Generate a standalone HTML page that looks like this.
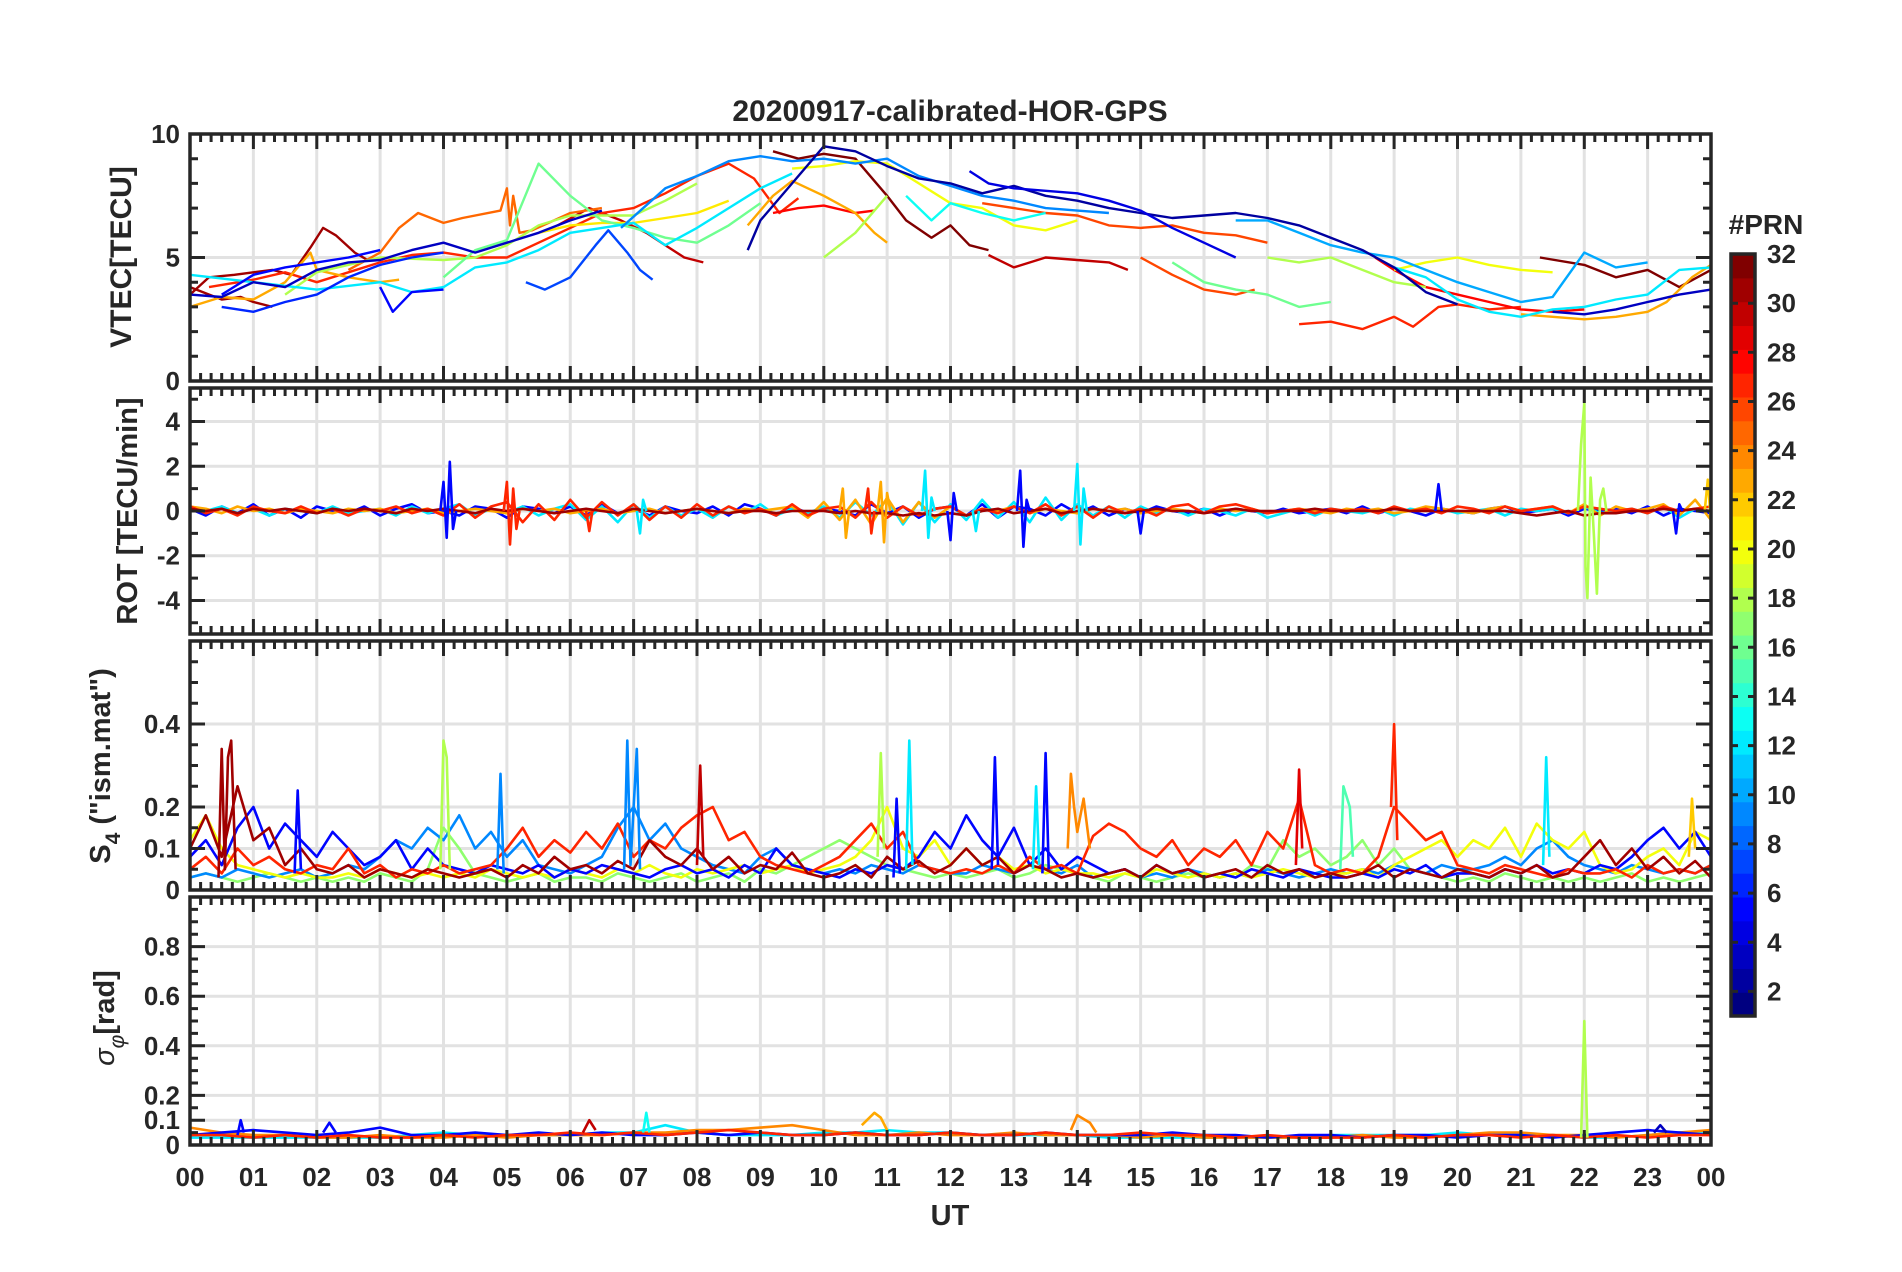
<!DOCTYPE html>
<html><head><meta charset="utf-8"><title>20200917-calibrated-HOR-GPS</title>
<style>html,body{margin:0;padding:0;background:#fff}svg{display:block}text{font-family:"Liberation Sans",Arial,sans-serif;font-weight:bold;fill:#262626}</style>
</head><body>
<svg id="fig" xmlns="http://www.w3.org/2000/svg" width="1902" height="1272" viewBox="0 0 1902 1272">
<rect x="0" y="0" width="1902" height="1272" fill="#fff"/>
<text x="950" y="121" font-size="30" text-anchor="middle">20200917-calibrated-HOR-GPS</text>
<text x="950" y="1225" font-size="29" text-anchor="middle">UT</text>
<text transform="translate(131,257) rotate(-90)" font-size="30" text-anchor="middle">VTEC[TECU]</text>
<text transform="translate(137,511) rotate(-90)" font-size="29" text-anchor="middle">ROT [TECU/min]</text>
<text transform="translate(110,766) rotate(-90)" font-size="29" text-anchor="middle">S<tspan font-size="21" dy="10">4</tspan><tspan dy="-10"> ("ism.mat")</tspan></text>
<text transform="translate(114,1018) rotate(-90)" font-size="29" text-anchor="middle"><tspan font-style="italic" font-weight="normal">σ</tspan><tspan font-size="21" dy="10" font-style="italic" font-weight="normal">φ</tspan><tspan dy="-10">[rad]</tspan></text>
<text x="1766" y="234" font-size="28" text-anchor="middle">#PRN</text>
<g id="layer"></g>
</svg>
<script>
// ---------- axis tick data ----------
const hourTicks = [0,1,2,3,4,5,6,7,8,9,10,11,12,13,14,15,16,17,18,19,20,21,22,23,24];
const hourLabels = ["00","01","02","03","04","05","06","07","08","09","10","11","12","13","14","15","16","17","18","19","20","21","22","23","00"];
const vtecTicks = [0,5,10];
const rotTicks = [-4,-2,0,2,4];
const s4Ticks = [0,0.1,0.2,0.4];
const sigTicks = [0,0.1,0.2,0.4,0.6,0.8];
const cbTicks = [2,4,6,8,10,12,14,16,18,20,22,24,26,28,30,32];

// ---------- VTEC tracks (hour, TECU) ----------
const vtecP31a = [[0,3.5],[0.3,4.2],[0.7,4.3],[1,4.4],[1.3,4.5],[1.6,4.3],[1.9,5.4],[2.1,6.2],[2.3,5.9],[2.6,5.2],[2.8,4.9]];
const vtecP31b = [[0,3.8],[0.5,3.3],[0.8,3.4],[1,3.2],[1.3,3.0]];
const vtecP30a = [[5.8,6.3],[6.3,7.0],[6.8,6.5],[7.2,6.0],[7.5,5.5],[7.8,5.0],[8.1,4.8]];
const vtecP32a = [[9.2,9.3],[9.6,9.0],[10,9.2],[10.5,9.0],[11,7.5],[11.3,6.5],[11.7,5.8],[12,6.3],[12.3,5.5],[12.6,5.3]];
const vtecP30b = [[12.6,5.1],[13,4.6],[13.5,5.0],[14,4.9],[14.5,4.8],[14.8,4.5]];
const vtecP32b = [[21.3,5.0],[22,4.7],[22.5,4.2],[23,4.5],[23.5,3.8],[24,4.5]];
const vtecP27a = [[0.3,3.8],[1,4.1],[1.5,4.4],[2,4.0],[2.5,4.4],[3,4.8],[3.5,5.1],[4,5.2],[4.5,5.0],[5,5.0],[5.5,5.6],[6,6.2],[6.5,6.8],[7,7.0],[7.5,7.6],[8,8.3],[8.5,8.8],[8.9,8.2],[9.3,6.8],[9.6,7.4]];
const vtecP28a = [[9.2,6.8],[9.6,7.0],[10,7.1],[10.5,6.8],[10.8,6.9]];
const vtecP26a = [[12.5,7.2],[13,7.0],[13.5,6.8],[14,6.7],[14.5,6.3],[15,6.2],[15.5,6.3],[16,6.0],[16.5,5.9],[17,5.6]];
const vtecP26b = [[15,5.0],[15.5,4.3],[16,3.7],[16.5,3.5],[16.8,3.7]];
const vtecP27b = [[17.5,2.3],[18,2.4],[18.5,2.1],[19,2.6],[19.3,2.2],[19.7,3.0],[20,3.1],[20.5,2.9],[21,3.0]];
const vtecP28b = [[18.7,5.0],[19,4.5],[19.5,3.8],[20,3.5],[20.5,3.2],[21,2.9],[21.5,2.8],[22,2.9]];
const vtecP25a = [[2.5,4.5],[3,5.2],[3.3,6.2],[3.6,6.8],[4,6.4],[4.3,6.6],[4.9,6.9],[5,7.8],[5.05,6.3],[5.1,7.5],[5.2,6.0],[5.4,6.1],[6,6.8],[6.5,7.0]];
const vtecP23a = [[0,3.0],[0.5,3.4],[1,3.3],[1.5,4.0],[1.9,5.2],[2,4.5],[2.5,4.2],[3.0,4.0],[3.3,4.1]];
const vtecP23b = [[8.8,6.3],[9.2,7.5],[9.5,8.1],[10,7.5],[10.5,6.8],[10.8,6.0],[11,5.6]];
const vtecP23c = [[21,2.7],[21.5,2.6],[22,2.5],[22.5,2.6],[23,2.8],[23.3,3.2],[23.7,4.2],[24,4.7]];
const vtecP20a = [[9.5,8.6],[10,8.7],[10.5,8.9],[11,8.8],[11.5,8.0],[12,7.2],[12.5,7.0],[13,6.3],[13.5,6.1],[14,6.5]];
const vtecP20b = [[19,4.5],[19.5,4.8],[20,5.0],[20.5,4.7],[21,4.5],[21.5,4.4]];
const vtecP21a = [[5.5,6.0],[6,6.3],[6.5,6.4],[7,6.4],[7.5,6.6],[8,6.8],[8.5,7.3]];
const vtecP18a = [[1.5,3.5],[2,4.4],[3,5.0],[4,4.9],[4.5,5.0],[5,5.5],[5.5,6.3],[6,6.7],[7,6.7],[7.5,7.3],[8,8.0]];
const vtecP18b = [[10,5.0],[10.5,6.0],[11,7.5]];
const vtecP18c = [[17,5.0],[17.5,4.8],[18,5.0],[18.5,4.5],[19,4.0],[19.5,3.8]];
const vtecP16a = [[4,4.2],[4.5,5.3],[5,5.7],[5.5,8.8],[6,7.5],[6.5,6.5],[7,6.2],[7.5,5.8],[8,5.6],[8.5,6.3],[9,7.2]];
const vtecP16b = [[15.5,4.8],[16,4.0],[16.5,3.7],[17,3.5],[17.5,3.0],[18,3.2]];
const vtecP12a = [[0,4.3],[1,4.0],[2,3.7],[3,4.0],[3.5,3.6],[4,3.8],[4.5,4.6],[5,4.8],[5.5,5.3],[6,6.0],[6.5,6.2],[7,6.4],[7.5,5.5],[8,6.2],[8.5,7.0],[9,7.8],[9.5,8.4]];
const vtecP13a = [[11.3,7.5],[11.7,6.5],[12,7.2],[12.5,6.8],[13,6.5],[13.5,6.8]];
const vtecP12b = [[19,4.6],[19.5,4.2],[20,3.3],[20.5,2.8],[21,2.6],[21.5,2.9],[22,3.0],[22.5,3.3],[23,3.5],[23.5,4.5],[24,4.6]];
const vtecP9a = [[6.8,6.2],[7.5,7.8],[8,8.3],[8.5,8.9],[9,9.1],[9.5,8.9],[10,9.0],[10.5,8.8],[11,9.0],[11.5,8.3],[12,7.9],[12.5,7.5],[13,7.3],[13.5,7.0],[14,6.9],[14.5,6.8]];
const vtecP10a = [[16.5,6.5],[17,6.5],[17.5,6.0],[18,5.5],[18.5,5.2],[19,5.0],[19.5,4.5],[20,4.0],[20.5,3.6],[21,3.2],[21.5,3.4],[22,5.2],[22.5,4.6],[23,4.8]];
const vtecP7a = [[5.3,4.0],[5.6,3.7],[6,4.2],[6.4,5.5],[6.6,6.1],[6.9,5.2],[7.1,4.5],[7.3,4.1]];
const vtecP6a = [[0.5,3.0],[1,2.8],[1.5,3.2],[2,3.5],[2.5,4.2],[3,4.7],[3.5,5.0],[4,5.2]];
const vtecP5a = [[0.5,3.5],[1,4.3],[1.5,4.6],[2,4.8],[2.5,5.0],[3,5.3]];
const vtecP5b = [[3,3.8],[3.2,2.8],[3.5,3.6],[4,3.7]];
const vtecP3a = [[0,3.5],[0.5,3.4],[1,4.0],[1.5,3.8],[2,4.5],[2.5,4.8],[3,4.9],[3.5,5.3],[4,5.6],[4.5,5.2],[5,5.6],[5.5,6.0],[6,6.5],[6.5,6.9]];
const vtecP2a = [[8.8,5.3],[9,6.5],[9.5,8.0],[10,9.5],[10.5,9.3],[11,8.7],[11.5,8.2],[12,8.0],[12.5,7.6],[13,7.9],[13.5,7.5],[14,7.3],[14.5,7.0],[15,6.8],[15.5,6.6],[16,6.7],[16.5,6.8],[17,6.6],[17.5,6.3],[18,5.8],[18.5,5.3],[19,4.6],[19.5,3.6],[20,3.1]];
const vtecP4a = [[12.3,8.5],[12.6,8.0],[13,7.8],[13.5,7.7],[14,7.6],[14.5,7.3],[15,6.9],[15.5,6.2],[16,5.6],[16.5,5.0]];
const vtecP3b = [[21.5,2.8],[22,2.7],[22.5,2.9],[23,3.2],[23.5,3.5],[24,3.7]];
const vtecSeries = [[31,vtecP31a],[31,vtecP31b],[30,vtecP30a],[32,vtecP32a],[30,vtecP30b],[32,vtecP32b],[27,vtecP27a],[28,vtecP28a],[26,vtecP26a],[26,vtecP26b],[27,vtecP27b],[28,vtecP28b],[25,vtecP25a],[23,vtecP23a],[23,vtecP23b],[23,vtecP23c],[20,vtecP20a],[20,vtecP20b],[21,vtecP21a],[18,vtecP18a],[18,vtecP18b],[18,vtecP18c],[16,vtecP16a],[16,vtecP16b],[12,vtecP12a],[13,vtecP13a],[12,vtecP12b],[9,vtecP9a],[10,vtecP10a],[7,vtecP7a],[6,vtecP6a],[5,vtecP5a],[5,vtecP5b],[3,vtecP3a],[2,vtecP2a],[4,vtecP4a],[3,vtecP3b]];

// ---------- ROT (evenly sampled over 0-24 h) ----------
const rotP5 = [0.1,-0.2,0.2,-0.1,0.3,-0.2,0.1,-0.3,0.2,0.0,-0.1,0.2,-0.2,0.1,0.3,-0.1,0.0,-0.2,0.2,0.1,-0.3,0.2,0.1,-0.1,0.2,-0.2,0.3,-0.1,0.1,-0.2,0.2,0.0,-0.1,0.2,-0.2,0.3,0.1,-0.2,0.2,-0.1,0.1,0.0,-0.2,0.3,-0.1,0.2,-0.3,0.1,0.2,-0.2,0.3,-0.3,0.2,0.1,-0.2,0.3,-0.1,0.2,-0.2,0.1,-0.1,0.2,0.0,-0.1,0.1,-0.2,0.1,0.0,-0.1,0.1,-0.1,0.0,0.1,-0.1,0.2,-0.1,0.1,0.0,-0.2,0.1,0.0,-0.1,0.1,0.2,-0.1,0.0,0.1,-0.2,0.1,0.0,0.1,-0.1,0.2,-0.2,0.1,0.0,-0.1];
const rotP27 = [0.2,-0.1,0.1,-0.2,0.2,0.0,-0.1,0.2,-0.1,0.1,-0.2,0.1,0.0,0.2,-0.1,0.1,-0.2,0.3,-0.3,0.2,0.4,-0.5,0.3,-0.4,0.5,-0.3,0.4,-0.2,0.3,-0.4,0.2,-0.3,0.3,-0.2,0.2,-0.1,0.1,-0.2,0.3,-0.2,0.1,0.2,-0.3,0.4,-0.3,0.2,-0.2,0.1,0.2,-0.2,0.1,-0.1,0.2,-0.1,0.3,-0.2,0.2,-0.3,0.2,-0.1,0.1,-0.2,0.2,0.3,-0.1,0.2,0.3,0.1,-0.1,0.0,0.1,-0.1,0.1,0.0,0.1,-0.1,0.2,0.0,0.1,-0.1,0.2,0.1,-0.1,0.2,0.0,0.1,0.2,-0.1,0.2,0.1,0.0,0.1,-0.1,0.2,0.0,0.1,0.2];
const rotP12 = [0.1,0.0,0.2,-0.1,0.1,-0.2,0.1,0.0,-0.1,0.2,-0.1,0.0,0.1,-0.2,0.2,-0.1,0.1,0.3,-0.2,0.1,-0.1,0.2,-0.2,0.1,0.3,-0.4,0.2,-0.5,0.3,-0.3,0.2,-0.2,0.1,-0.3,0.2,-0.1,0.3,-0.2,0.1,-0.1,0.2,-0.3,0.4,-0.2,0.5,-0.6,0.4,-0.5,0.3,-0.4,0.5,-0.3,0.4,-0.5,0.6,-0.4,0.3,-0.2,0.2,-0.3,0.2,-0.1,0.1,-0.2,0.1,0.0,-0.2,0.1,-0.3,-0.1,0.1,-0.2,0.1,0.0,-0.1,0.1,-0.2,0.1,0.0,0.1,-0.1,0.0,0.1,-0.2,0.1,0.0,0.1,-0.1,0.2,-0.1,0.0,0.1,-0.1,0.2,-0.3,0.1,0.2];
const rotP23 = [0.2,0.1,-0.1,0.2,0.0,0.1,-0.1,0.1,0.0,-0.1,0.1,0.0,0.1,-0.1,0.0,0.1,-0.1,0.0,0.1,0.0,-0.1,0.1,0.0,0.1,-0.1,0.0,0.1,-0.1,0.0,0.1,-0.1,0.0,0.1,0.0,-0.1,0.1,0.0,0.1,0.2,-0.3,0.4,-0.4,0.5,-0.6,0.6,-0.5,0.4,-0.3,0.2,-0.2,0.1,0.0,0.2,-0.1,0.1,0.0,-0.1,0.1,0.0,0.1,-0.1,0.0,0.1,0.0,-0.1,0.1,0.0,0.1,-0.1,0.0,0.1,0.0,-0.1,0.1,0.0,0.1,-0.1,0.0,0.2,0.1,0.0,-0.1,0.1,0.2,0.0,0.1,0.2,-0.1,0.3,-0.2,0.2,0.0,0.1,0.3,-0.2,0.5,-0.4];
const rotP31 = [0.1,0.0,0.1,-0.1,0.1,0.0,0.1,0.0,-0.1,0.1,0.0,0.1,0.0,-0.1,0.1,0.0,0.1,0.0,-0.1,0.1,0.0,0.1,0.0,-0.1,0.0,0.1,0.0,-0.1,0.1,0.0,-0.1,0.0,0.1,0.0,-0.1,0.0,0.0,-0.1,0.0,0.0,0.0,-0.1,0.0,-0.1,-0.1,-0.2,-0.1,-0.2,-0.1,-0.2,0.0,0.1,-0.1,0.0,0.1,-0.1,0.0,0.1,0.0,-0.1,0.0,0.1,0.0,0.0,-0.1,0.0,0.1,0.0,0.0,0.0,0.0,0.1,0.0,0.0,0.0,0.0,0.1,0.0,0.0,0.0,0.0,0.0,0.0,0.0,-0.1,-0.2,-0.1,0.0,-0.2,-0.1,-0.1,0.0,0.0,0.1,0.0,0.1,0.0];
const rotBase = [[5,rotP5],[12,rotP12],[23,rotP23],[27,rotP27],[31,rotP31]];
const rotSpikes = [
 [5,[[3.95,0],[4.0,1.3],[4.05,-1.2],[4.1,2.2],[4.15,-0.8],[4.2,0]]],
 [5,[[11.95,0],[12.0,-1.3],[12.05,0.8],[12.1,0]]],
 [5,[[13.05,0],[13.1,1.8],[13.15,-1.6],[13.2,0.5],[13.25,0]]],
 [5,[[14.95,0],[15.0,-1.0],[15.05,0]]],
 [5,[[19.65,0],[19.7,1.2],[19.75,0]]],
 [5,[[23.4,0],[23.45,-1.0],[23.5,0.3],[23.55,0]]],
 [27,[[4.95,0],[5.0,1.3],[5.05,-1.5],[5.1,1.0],[5.15,-0.8],[5.2,0]]],
 [27,[[6.25,0],[6.3,-0.9],[6.35,0]]],
 [27,[[10.65,0],[10.7,1.0],[10.75,-1.0],[10.8,0]]],
 [12,[[7.05,0],[7.1,-1.0],[7.15,0.5],[7.2,0]]],
 [12,[[11.55,0],[11.6,1.8],[11.65,-1.2],[11.7,0.6],[11.75,0]]],
 [12,[[13.95,0],[14.0,2.1],[14.05,-1.5],[14.1,1.0],[14.15,0]]],
 [12,[[12.35,0],[12.4,-0.9],[12.45,0]]],
 [23,[[10.25,0],[10.3,1.0],[10.35,-1.2],[10.4,0]]],
 [23,[[10.85,0],[10.9,1.3],[10.95,-1.4],[11.0,0.8],[11.05,0]]],
 [18,[[21.9,0],[21.95,3.0],[22.0,4.8],[22.02,-2.5],[22.05,-3.9],[22.1,1.5],[22.15,-1.0],[22.2,-3.7],[22.25,0.5],[22.3,1.0],[22.35,0]]],
 [22,[[23.9,0],[23.95,1.4],[24,-0.5]]]
];

// ---------- S4 (evenly sampled over 0-24 h) ----------
const s4P31 = [.10,.18,.08,.25,.12,.15,.06,.10,.05, .04,.06,.03,.05,.04,.03,.05,.04, .03,.04,.05,.03,.06,.04,.08,.05, .06,.04,.07,.05,.12,.08,.06,.10, .05,.08,.04,.06,.05,.09,.04,.03, .04,.06,.03,.08,.05,.07,.04,.06, .10,.06,.08,.04,.06,.05,.03,.04, .03,.04,.05,.03,.06,.04,.05,.03, .04,.05,.03,.06,.04,.05,.03,.04, .03,.04,.06,.03,.05,.04,.03,.05, .04,.03,.05,.04,.06,.03,.04,.08, .12,.06,.10,.05,.08,.04,.07,.03];
const s4P27 = [.05,.08,.04,.10,.06,.08,.05,.04,.06, .05,.10,.04,.06,.03,.05,.04,.06, .04,.05,.06,.10,.15,.08,.12,.09, .14,.10,.16,.08,.12,.10,.15,.18, .20,.12,.14,.08,.06,.05,.04,.06, .08,.12,.16,.10,.14,.06,.05,.04, .05,.04,.06,.04,.08,.05,.06,.04, .13,.16,.14,.10,.08,.12,.06,.10, .08,.12,.06,.14,.10,.22,.06,.04, .05,.04,.08,.20,.16,.12,.14,.06, .05,.04,.06,.05,.04,.03,.05,.04, .04,.05,.03,.06,.04,.05,.04,.06];
const s4P5 = [.08,.12,.06,.15,.20,.10,.16,.12,.08, .14,.10,.06,.08,.12,.05,.10,.06, .05,.04,.06,.05,.04,.06,.03,.05, .04,.06,.05,.04,.03,.05,.06,.04, .05,.03,.06,.04,.10,.06,.05,.04, .03,.05,.04,.06,.05,.08,.14,.10, .18,.12,.08,.15,.06,.10,.05,.08, .06,.04,.05,.03,.06,.04,.05,.03, .04,.03,.05,.04,.03,.05,.04,.03, .03,.04,.03,.05,.04,.06,.03,.04, .04,.03,.05,.04,.06,.04,.05,.04, .06,.05,.08,.12,.15,.10,.14,.08];
const s4P9 = [.03,.04,.03,.05,.04,.03,.04,.05,.03, .04,.06,.05,.08,.12,.10,.15,.12, .18,.10,.14,.08,.12,.06,.05,.04, .06,.08,.15,.20,.12,.16,.10,.08, .06,.05,.04,.08,.10,.06,.05,.04, .05,.04,.06,.05,.04,.06,.05,.04, .04,.06,.05,.04,.06,.05,.04,.06, .03,.04,.05,.03,.04,.03,.05,.04, .03,.04,.03,.05,.04,.03,.04,.05, .04,.05,.04,.06,.05,.04,.06,.05, .05,.06,.08,.06,.10,.12,.08,.06, .05,.04,.06,.05,.04,.05,.04,.06];
const s4P20 = [.12,.18,.10,.06,.05,.04,.03,.04,.03, .03,.04,.03,.05,.04,.03,.04,.03, .04,.03,.05,.04,.03,.04,.03,.05, .04,.03,.05,.04,.06,.04,.03,.05, .04,.05,.06,.04,.05,.06,.04,.05, .06,.08,.12,.20,.10,.08,.12,.06, .10,.06,.08,.05,.06,.04,.05,.04, .04,.03,.04,.03,.05,.04,.03,.04, .03,.04,.03,.04,.05,.04,.03,.04, .04,.05,.03,.06,.08,.10,.12,.08, .12,.10,.15,.08,.16,.12,.10,.14, .06,.04,.05,.08,.10,.06,.14,.12];
const s4P17 = [.03,.04,.03,.02,.03,.04,.03,.02,.03, .02,.03,.02,.04,.03,.02,.05,.15, .10,.04,.03,.02,.03,.04,.02,.03, .03,.02,.04,.03,.02,.03,.04,.02, .03,.04,.02,.05,.04,.06,.08,.10, .12,.10,.08,.06,.05,.04,.03,.04, .03,.04,.05,.03,.04,.06,.05,.04, .03,.02,.04,.03,.02,.03,.04,.03, .04,.03,.06,.05,.12,.08,.10,.06, .08,.12,.06,.10,.05,.04,.03,.02, .03,.02,.04,.03,.02,.03,.02,.03, .02,.03,.04,.02,.03,.02,.03,.04];
const s4Base = [[17,s4P17],[9,s4P9],[20,s4P20],[5,s4P5],[27,s4P27],[31,s4P31]];
const s4Spikes = [
 [31,[[0.45,0.03],[0.5,0.34],[0.55,0.05],[0.6,0.32],[0.65,0.36],[0.72,0.05]]],
 [5,[[1.65,0.04],[1.7,0.24],[1.75,0.05]]],
 [5,[[12.65,0.05],[12.7,0.32],[12.75,0.06]]],
 [5,[[13.45,0.04],[13.5,0.33],[13.55,0.05]]],
 [5,[[11.1,0.03],[11.15,0.22],[11.2,0.04]]],
 [18,[[3.95,0.05],[4.0,0.36],[4.05,0.32],[4.1,0.05]]],
 [18,[[10.85,0.08],[10.9,0.33],[10.95,0.1]]],
 [9,[[4.85,0.05],[4.9,0.28],[4.95,0.04]]],
 [9,[[6.85,0.05],[6.9,0.36],[6.95,0.06],[7.05,0.34],[7.1,0.05]]],
 [30,[[8.0,0.06],[8.05,0.3],[8.1,0.08]]],
 [12,[[11.3,0.05],[11.35,0.36],[11.4,0.06]]],
 [12,[[13.3,0.05],[13.35,0.25],[13.4,0.06]]],
 [12,[[21.35,0.06],[21.4,0.32],[21.45,0.08]]],
 [24,[[13.85,0.1],[13.9,0.28],[13.95,0.2],[14.0,0.14],[14.1,0.22],[14.2,0.1]]],
 [29,[[17.45,0.06],[17.5,0.29],[17.55,0.1]]],
 [27,[[18.95,0.2],[19.0,0.4],[19.05,0.12]]],
 [15,[[18.15,0.05],[18.2,0.25],[18.3,0.2],[18.35,0.08]]],
 [22,[[23.65,0.08],[23.7,0.22],[23.75,0.1]]]
];

// ---------- sigma phi (evenly sampled over 0-24 h) ----------
const sigP5 = [.04,.05,.06,.05,.04,.05,.07,.04,.04,.05,.04,.05,.04,.05,.04,.04,.05,.04,.05,.04,.04,.05,.04,.04,.05,.04,.04,.05,.04,.04,.04,.05,.04,.04,.03,.04,.04,.03,.04,.04,.03,.04,.04,.03,.04,.05,.06,.05,.04];
const sigP27 = [.04,.04,.03,.04,.03,.04,.03,.03,.04,.03,.04,.04,.05,.04,.05,.04,.05,.06,.05,.04,.04,.05,.04,.04,.05,.04,.04,.05,.04,.04,.05,.04,.04,.03,.04,.03,.03,.03,.04,.03,.04,.04,.03,.04,.03,.04,.03,.04,.04];
const sigP24 = [.07,.05,.04,.04,.03,.03,.04,.03,.03,.04,.03,.04,.04,.04,.05,.05,.06,.06,.07,.08,.06,.04,.04,.05,.04,.04,.05,.04,.04,.04,.03,.04,.03,.03,.03,.03,.03,.04,.03,.03,.04,.05,.05,.04,.04,.03,.04,.05,.06];
const sigP12 = [.03,.03,.03,.03,.03,.03,.03,.04,.05,.04,.04,.04,.04,.05,.05,.08,.05,.04,.04,.04,.05,.05,.06,.05,.05,.04,.04,.04,.04,.03,.03,.03,.03,.03,.03,.03,.04,.04,.04,.04,.05,.04,.04,.04,.03,.03,.04,.05,.05];
const sigBase = [[12,sigP12],[24,sigP24],[5,sigP5],[27,sigP27]];
const sigSpikes = [
 [5,[[0.75,0.04],[0.8,0.1],[0.85,0.05]]],
 [5,[[2.1,0.05],[2.2,0.09],[2.3,0.05]]],
 [30,[[6.2,0.05],[6.3,0.1],[6.4,0.06]]],
 [13,[[7.15,0.05],[7.2,0.13],[7.25,0.05]]],
 [23,[[10.6,0.08],[10.8,0.13],[10.9,0.11],[11.0,0.06]]],
 [24,[[13.9,0.06],[14.0,0.12],[14.2,0.09],[14.3,0.05]]],
 [18,[[21.95,0.03],[22.0,0.5],[22.05,0.03]]],
 [3,[[23.1,0.05],[23.2,0.08],[23.3,0.05]]]
];

// ---------- layout ----------
const NS = 'http://www.w3.org/2000/svg';
const L = 190, R = 1711;
const panels = [
 {name:'vtec', top:134, bot:381, min:0, max:10, ticks:vtecTicks, minor:1, labels:['0','5','10'], sw:2.4},
 {name:'rot', top:388, bot:634, min:-5.5, max:5.5, ticks:rotTicks, minor:1, labels:['-4','-2','0','2','4'], sw:2.6},
 {name:'s4', top:641, bot:890, min:0, max:0.6, ticks:s4Ticks, minor:0.05, labels:['0','0.1','0.2','0.4'], sw:2.6},
 {name:'sigma', top:897, bot:1145, min:0, max:1, ticks:sigTicks, minor:0.05, labels:['0','0.1','0.2','0.4','0.6','0.8'], sw:2.6}
];
const layer = document.getElementById('layer');
const xs = t => L + (R - L) * t / 24;
function mk(tag, attrs, parent){ const e = document.createElementNS(NS, tag); for (const k in attrs) e.setAttribute(k, attrs[k]); (parent||layer).appendChild(e); return e; }
function jet(k){ const v=(k-1)/31; const c=x=>Math.round(255*Math.max(0,Math.min(1,1.5-Math.abs(x)))); return `rgb(${c(4*v-3)},${c(4*v-2)},${c(4*v-1)})`; }
const AX = '#262626';

panels.forEach(p => {
  const ys = v => p.bot - (p.bot - p.top) * (v - p.min) / (p.max - p.min);
  p.ys = ys;
  const g = mk('g', {});
  
  
  p.g = g;
  hourTicks.forEach(h => {
    if (h === 0 || h === 24) return;
    const gl = mk('line', {x1:xs(h), x2:xs(h), y1:p.top, y2:p.bot, stroke:'#e2e2e2', 'stroke-width':3}, g);
    
    
  });
  p.ticks.forEach(v => {
    if (v === p.min || v === p.max) return;
    const gl = mk('line', {x1:L, x2:R, y1:ys(v), y2:ys(v), stroke:'#e2e2e2', 'stroke-width':3}, g);
    
    
  });
  const sg = mk('g', {fill:'none', 'stroke-width':p.sw, 'stroke-linejoin':'round'}, g);
  
  
  p.sg = sg;
});

function ptsStr(p, arr){ return arr.map(d => xs(d[0]).toFixed(1) + ',' + p.ys(Math.max(p.min, Math.min(p.max, d[1]))).toFixed(1)).join(' '); }
function evenPts(vals){ return vals.map((v,i) => [24 * i / (vals.length - 1), v]); }
function drawLine(p, prn, arr, name){
  const pl = mk('polyline', {points: ptsStr(p, arr), stroke: jet(prn)}, p.sg);
  
  
}
vtecSeries.forEach(s => drawLine(panels[0], s[0], s[1], 'vtec-line'));
rotBase.forEach(s => drawLine(panels[1], s[0], evenPts(s[1]), 'rot-line'));
rotSpikes.forEach(s => drawLine(panels[1], s[0], s[1], 'rot-spike'));
s4Base.forEach(s => drawLine(panels[2], s[0], evenPts(s[1]), 's4-line'));
s4Spikes.forEach(s => drawLine(panels[2], s[0], s[1], 's4-spike'));
sigBase.forEach(s => drawLine(panels[3], s[0], evenPts(s[1]), 'sigma-line'));
sigSpikes.forEach(s => drawLine(panels[3], s[0], s[1], 'sigma-spike'));

panels.forEach((p, pi) => {
  const g = p.g;
  const ys = p.ys;
  let d = '';
  for (let m = 0; m <= 144; m++) {
    const x = xs(m / 6), len = (m % 6 === 0) ? 15 : 8;
    d += `M${x.toFixed(1)},${p.top}v${len}M${x.toFixed(1)},${p.bot}v${-len}`;
  }
  const start = Math.ceil(p.min / p.minor - 1e-9);
  for (let k = start; k * p.minor <= p.max + 1e-9; k++) {
    const v = k * p.minor;
    const isMaj = p.ticks.some(t => Math.abs(t - v) < 1e-9);
    const len = isMaj ? 15 : 8;
    const y = ys(v).toFixed(1);
    d += `M${L},${y}h${len}M${R},${y}h${-len}`;
  }
  const tk = mk('path', {d: d, stroke: AX, 'stroke-width': 3, fill: 'none'}, g);
  
  
  const box = mk('rect', {x:L, y:p.top, width:R-L, height:p.bot-p.top, fill:'none', stroke:AX, 'stroke-width':3.5}, g);
  
  
  p.ticks.forEach((v, i) => {
    const t = mk('text', {x: L - 10, y: ys(v) + 9, 'font-size': 26, 'text-anchor': 'end'}, g);
    t.textContent = p.labels[i];
    
    
  });
  if (pi === 3) {
    hourTicks.forEach((h, i) => {
      const t = mk('text', {x: xs(h), y: 1186, 'font-size': 26, 'text-anchor': 'middle'}, g);
      t.textContent = hourLabels[i];
      
      
    });
  }
});

const cbL = 1731, cbR = 1755, cbT = 254, cbB = 1016;
const cbY = v => cbB - (cbB - cbT) * (v - 1) / 31;
const cb = mk('g', {});


for (let k = 1; k <= 32; k++) {
  const h = (cbB - cbT) / 32;
  const r = mk('rect', {x: cbL, y: cbB - k * h, width: cbR - cbL, height: h + 0.6, fill: jet(k)}, cb);
  
  
}
let cd = '';
cbTicks.forEach(v => { const y = cbY(v).toFixed(1); cd += `M${cbL},${y}h7M${cbR},${y}h-7`; });
const cbt = mk('path', {d: cd, stroke: AX, 'stroke-width': 3}, cb);


const cbb = mk('rect', {x: cbL, y: cbT, width: cbR - cbL, height: cbB - cbT, fill: 'none', stroke: AX, 'stroke-width': 3.5}, cb);


cbTicks.forEach(v => {
  const t = mk('text', {x: 1767, y: cbY(v) + 9, 'font-size': 26}, cb);
  t.textContent = String(v);
  
  
});
</script>
</body></html>
